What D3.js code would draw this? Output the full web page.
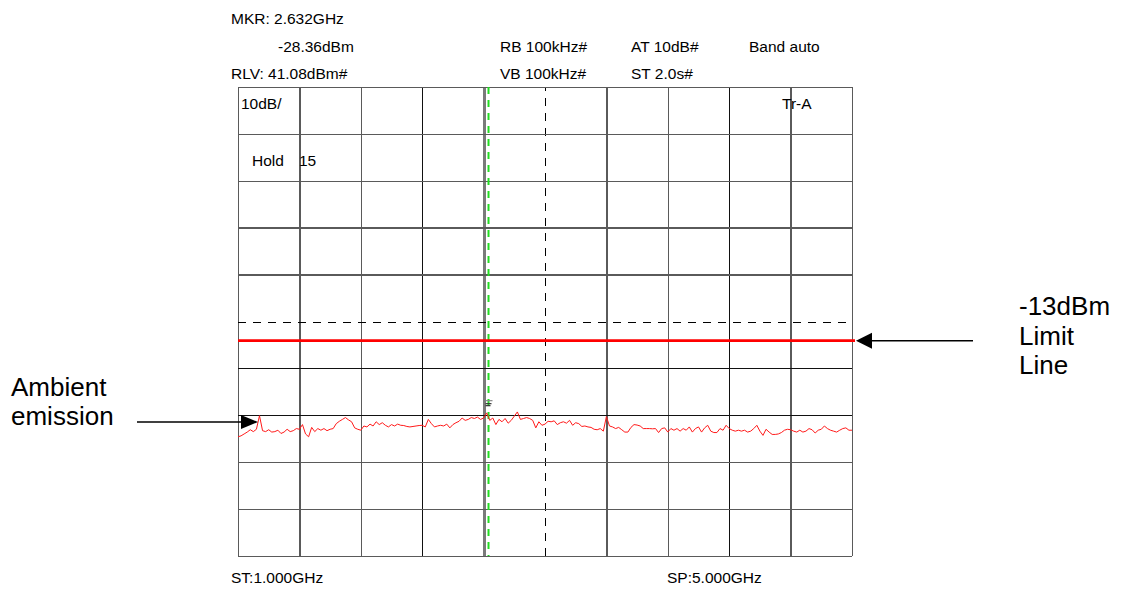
<!DOCTYPE html>
<html><head><meta charset="utf-8">
<script src="https://cdn.jsdelivr.net/npm/d3@7"></script>
<style>
body{margin:0;background:#fff}
svg{display:block}
text{font-family:"Liberation Sans",Arial,Helvetica,sans-serif;fill:#000}
</style>
</head><body>
<svg id="c" width="1121" height="589"></svg>
<script>
// ---- instrument settings / data ----
const startGHz = 1.0, stopGHz = 5.0;
const refLevelDbm = 41.08, dbPerDiv = 10, nDivs = 10;
const limitDbm = -13;
const markerGHz = 2.632, markerDbm = -28.36;

// sweep trace (201 points, 1.000 GHz .. 5.000 GHz), dBm
const traceDbm = [
 -33.5,-33.3,-32.9,-32.5,-32.0,-32.4,-31.9,-29.0,-32.2,-32.4,
 -32.0,-32.5,-32.4,-32.1,-32.8,-32.5,-31.9,-32.4,-32.2,-31.75,
 -31.9,-30.9,-32.9,-33.5,-31.5,-32.4,-31.75,-32.1,-31.75,-32.2,
 -31.9,-31.75,-30.7,-30.2,-29.8,-29.4,-29.9,-30.3,-31.6,-31.9,
 -32.1,-31.2,-31.4,-30.8,-31.2,-30.3,-30.9,-30.5,-31.05,-31.4,
 -30.9,-31.2,-30.8,-31.05,-31.1,-31.3,-31.4,-31.3,-31.2,-31.1,
 -31.05,-31.4,-29.8,-30.7,-31.4,-31.2,-31.05,-31.2,-30.8,-31.6,
 -30.9,-30.5,-30.2,-29.5,-30.0,-29.8,-29.4,-29.6,-29.3,-29.8,
 -29.5,-28.4,-30.0,-29.5,-30.9,-29.8,-30.3,-29.6,-30.6,-30.0,
 -29.1,-28.2,-29.8,-29.6,-29.4,-29.6,-30.0,-31.6,-30.3,-31.05,
 -30.8,-30.2,-30.3,-30.1,-30.9,-30.5,-30.3,-30.6,-30.0,-31.05,
 -30.5,-30.7,-31.3,-31.2,-31.4,-31.5,-31.9,-32.0,-31.75,-32.3,
 -29.2,-31.2,-31.4,-31.75,-31.5,-32.0,-32.5,-32.5,-31.5,-30.9,
 -31.0,-31.2,-31.75,-31.75,-31.75,-31.8,-31.75,-32.6,-31.75,-31.6,
 -32.5,-31.75,-32.1,-31.75,-32.3,-31.75,-32.1,-31.4,-32.5,-31.75,
 -31.4,-32.5,-31.6,-31.05,-32.3,-32.6,-32.6,-31.75,-32.1,-31.05,
 -31.75,-32.1,-32.3,-32.1,-32.3,-32.1,-32.5,-32.3,-31.75,-31.05,
 -32.3,-33.2,-31.9,-32.5,-33.0,-33.0,-32.9,-32.6,-32.1,-31.9,
 -32.0,-32.3,-32.5,-32.1,-32.5,-32.3,-31.75,-32.0,-32.7,-32.1,
 -31.9,-31.2,-31.75,-32.1,-32.3,-32.5,-32.1,-31.75,-31.6,-32.1,-32.1
];

// texts
const headerLeft  = ["MKR: 2.632GHz", "-28.36dBm", "RLV: 41.08dBm#"];
const headerMid   = ["", "RB 100kHz#", "VB 100kHz#"];
const headerAt    = ["", "AT 10dB#", "ST 2.0s#"];
const headerBand  = ["", "Band auto", ""];
const scaleLabel = "10dB/", traceLabel = "Tr-A", holdLabel = "Hold", holdCount = "15";
const startLabel = "ST:1.000GHz", stopLabel = "SP:5.000GHz";
const ambientLabel = ["Ambient", "emission"];
const limitLabel = ["-13dBm", "Limit", "Line"];

// ---- drawing ----
const svg = d3.select("#c");
const L = 238, R = 852, T = 87, B = 556;

const x = d3.scaleLinear().domain([startGHz, stopGHz]).range([L, R]);
const y = d3.scaleLinear().domain([refLevelDbm - dbPerDiv * nDivs, refLevelDbm]).range([B, T]);

const xTicks = d3.range(nDivs + 1).map(i => startGHz + i * (stopGHz - startGHz) / nDivs);
const yTicks = d3.range(nDivs + 1).map(i => refLevelDbm - i * dbPerDiv);

// vertical grid
const gx = svg.append("g").attr("transform", `translate(0,${B})`)
  .call(d3.axisBottom(x).tickValues(xTicks).tickSize(-(B - T)).tickFormat(""));
gx.select(".domain").remove();
const blackV = new Set([3, 8]);
gx.selectAll(".tick line").attr("shape-rendering", "crispEdges").each(function(d, i) {
  const s = d3.select(this);
  if (i === 5) s.attr("stroke", "#000").attr("stroke-width", 1).attr("stroke-dasharray", "8,7");
  else if (i === 4) s.attr("stroke", "#7a7a7a").attr("stroke-width", 3);
  else if (blackV.has(i)) s.attr("stroke", "#111").attr("stroke-width", 1);
  else s.attr("stroke", "#5a5a5a").attr("stroke-width", 1.5);
});

// horizontal grid
const gy = svg.append("g").attr("transform", `translate(${L},0)`)
  .call(d3.axisLeft(y).tickValues(yTicks).tickSize(-(R - L)).tickFormat(""));
gy.select(".domain").remove();
const blackH = new Set([6, 7]);
gy.selectAll(".tick line").attr("shape-rendering", "crispEdges").each(function(d, i) {
  const s = d3.select(this);
  if (i === 5) s.attr("stroke", "#000").attr("stroke-width", 1).attr("stroke-dasharray", "8,7");
  else if (blackH.has(i)) s.attr("stroke", "#111").attr("stroke-width", 1);
  else s.attr("stroke", "#5a5a5a").attr("stroke-width", 1.5);
});

// marker line (green dashed)
svg.append("line")
  .attr("x1", x(markerGHz)).attr("x2", x(markerGHz))
  .attr("y1", y(refLevelDbm)).attr("y2", y(refLevelDbm - dbPerDiv * nDivs))
  .attr("stroke", "#22dd22").attr("stroke-width", 2).attr("stroke-dasharray", "7,6");

// limit line
svg.append("line")
  .attr("x1", x(startGHz)).attr("x2", x(stopGHz) + 3)
  .attr("y1", y(limitDbm)).attr("y2", y(limitDbm))
  .attr("stroke", "#ff0000").attr("stroke-width", 2.6);

// trace
const step = (stopGHz - startGHz) / (traceDbm.length - 1);
svg.append("path")
  .datum(traceDbm)
  .attr("fill", "none").attr("stroke", "#ff1a1a").attr("stroke-width", 1)
  .attr("d", d3.line().x((d, i) => x(startGHz + i * step)).y(d => y(d)));

// marker symbol
const mx = x(markerGHz), my = y(markerDbm);
[[-3, 4, -12], [-3, 3, -9], [-3, 2, -7]].forEach(([a, b, o], k) => {
  svg.append("line").attr("x1", mx + a).attr("x2", mx + b)
    .attr("y1", my + o).attr("y2", my + o)
    .attr("stroke", k === 0 ? "#888" : "#333").attr("stroke-width", 1.2);
});

// header texts
const hs = 15.5;
const rowsY = [24, 52, 79];
const addT = (t, xx, yy, size) => svg.append("text").attr("x", xx).attr("y", yy).attr("font-size", size).text(t);
headerLeft.forEach((t, i) => addT(t, i === 1 ? 278 : 231, rowsY[i], hs));
headerMid.forEach((t, i) => t && addT(t, 500, rowsY[i], hs));
headerAt.forEach((t, i) => t && addT(t, 631, rowsY[i], hs));
headerBand.forEach((t, i) => t && addT(t, 749, rowsY[i], hs));

addT(scaleLabel, 241, 109, hs);
addT(traceLabel, 782, 109, hs);
addT(holdLabel, 252, 166, hs);
addT(holdCount, 299, 166, hs);
addT(startLabel, 231, 583, hs);
addT(stopLabel, 667, 583, hs);

// annotations
const as = 26;
addT(ambientLabel[0], 11, 396, as);
addT(ambientLabel[1], 11, 425, as);
addT(limitLabel[0], 1019, 315, as);
addT(limitLabel[1], 1019, 345, as);
addT(limitLabel[2], 1019, 374, as);

// ambient arrow
const ax = x(startGHz) + 20, ay = 422;
svg.append("line").attr("x1", 137).attr("x2", ax - 14).attr("y1", ay).attr("y2", ay)
  .attr("stroke", "#000").attr("stroke-width", 1.5);
svg.append("path").attr("d", `M${ax},${ay} L${ax - 17},${ay - 7} L${ax - 17},${ay + 7} Z`).attr("fill", "#000");

// limit arrow
const lx = x(stopGHz) + 4, ly = y(limitDbm);
svg.append("line").attr("x1", 973).attr("x2", lx + 14).attr("y1", ly).attr("y2", ly)
  .attr("stroke", "#000").attr("stroke-width", 1.5);
svg.append("path").attr("d", `M${lx},${ly} L${lx + 16},${ly - 8} L${lx + 16},${ly + 8} Z`).attr("fill", "#000");
</script>
</body></html>
